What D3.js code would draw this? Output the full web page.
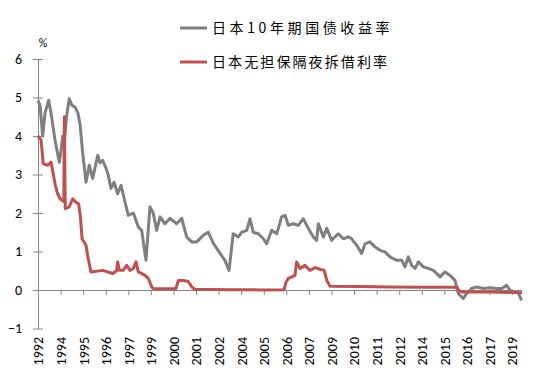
<!DOCTYPE html>
<html>
<head>
<meta charset="utf-8">
<script src="https://cdn.jsdelivr.net/npm/d3@7"></script>
<style>
  body { margin: 0; background: #fff; }
  .axis path, .axis line { stroke: #868686; }
  .axis text { font-family: Carlito, "Liberation Sans", sans-serif; font-size: 13px; fill: #000; }
</style>
</head>
<body>
<div id="chart"></div>
<script>
// JGB 10y yield, decimal year / percent
const jgbYears = [1992.80, 1992.91, 1993.06, 1993.19, 1993.39, 1993.52, 1993.74, 1993.98, 1994.07, 1994.17,
  1994.27, 1994.38, 1994.53, 1994.68, 1994.85, 1995.01, 1995.13, 1995.27, 1995.46, 1995.64,
  1995.83, 1996.11, 1996.23, 1996.38, 1996.57, 1996.68, 1996.84, 1997.01, 1997.21, 1997.40,
  1997.62, 1997.80, 1998.08, 1998.35, 1998.54, 1998.78, 1999.00, 1999.18, 1999.37, 1999.56,
  1999.83, 2000.11, 2000.48, 2000.76, 2001.03, 2001.31, 2001.59, 2001.95, 2002.23, 2002.51,
  2002.88, 2003.15, 2003.38, 2003.61, 2003.89, 2004.08, 2004.36, 2004.54, 2004.72, 2005.00,
  2005.28, 2005.46, 2005.74, 2006.02, 2006.29, 2006.48, 2006.66, 2006.94, 2007.21, 2007.49,
  2007.77, 2008.04, 2008.23, 2008.32, 2008.60, 2008.79, 2009.06, 2009.15, 2009.43, 2009.71,
  2009.98, 2010.17, 2010.45, 2010.72, 2010.91, 2011.18, 2011.46, 2011.74, 2012.01, 2012.29,
  2012.66, 2012.94, 2013.12, 2013.30, 2013.49, 2013.68, 2013.86, 2014.14, 2014.41, 2014.69,
  2014.78, 2015.06, 2015.34, 2015.61, 2015.89, 2016.07, 2016.35, 2016.54, 2016.81, 2017.09,
  2017.46, 2017.83, 2018.20, 2018.48, 2018.75, 2018.94, 2019.21, 2019.40, 2019.58];
const jgbValues = [4.93, 4.8, 4.0, 4.6, 4.93, 4.6, 3.9, 3.32, 3.6, 4.0,
  3.9, 4.5, 4.97, 4.8, 4.75, 4.6, 4.3, 3.58, 2.8, 3.24,
  2.9, 3.5, 3.3, 3.37, 3.16, 3.0, 2.64, 2.8, 2.5, 2.72,
  2.28, 1.94, 2.0, 1.64, 1.55, 0.77, 2.16, 2.0, 1.55, 1.9,
  1.72, 1.86, 1.72, 1.86, 1.38, 1.25, 1.25, 1.42, 1.5, 1.21,
  0.95, 0.77, 0.51, 1.46, 1.38, 1.5, 1.55, 1.85, 1.5, 1.46,
  1.33, 1.2, 1.55, 1.46, 1.9, 1.94, 1.68, 1.72, 1.68, 1.85,
  1.6, 1.38, 1.29, 1.72, 1.38, 1.6, 1.29, 1.34, 1.46, 1.33,
  1.38, 1.33, 1.16, 0.95, 1.2, 1.25, 1.12, 1.03, 0.99, 0.86,
  0.77, 0.77, 0.6, 0.86, 0.64, 0.56, 0.73, 0.6, 0.56, 0.51,
  0.47, 0.34, 0.47, 0.38, 0.25, -0.09, -0.22, -0.09, 0.04, 0.08,
  0.04, 0.06, 0.04, 0.04, 0.12, -0.01, -0.05, -0.09, -0.27];

// uncollateralized overnight call rate
const callYears = [1992.80, 1992.97, 1993.09, 1993.34, 1993.52, 1993.61, 1993.76, 1993.89, 1994.02, 1994.13,
  1994.23, 1994.26, 1994.31, 1994.53, 1994.72, 1994.90, 1995.05, 1995.15, 1995.24, 1995.46,
  1995.55, 1995.73, 1996.38, 1996.94, 1997.15, 1997.21, 1997.30, 1997.52, 1997.71, 1997.89,
  1998.08, 1998.23, 1998.35, 1998.54, 1998.72, 1998.91, 1999.10, 1999.18, 1999.74, 2000.29,
  2000.44, 2000.57, 2000.85, 2001.12, 2001.31, 2001.49, 2003.43, 2005.09, 2006.42, 2006.53,
  2006.66, 2006.85, 2007.03, 2007.12, 2007.31, 2007.58, 2007.86, 2008.14, 2008.41, 2008.65,
  2008.79, 2008.97, 2010.63, 2012.29, 2013.95, 2016.00, 2016.11, 2016.28, 2017.83, 2019.60];
const callValues = [4.0, 3.89, 3.28, 3.24, 3.32, 3.1, 2.72, 2.5, 2.37, 2.33,
  2.3, 4.5, 2.11, 2.16, 2.37, 2.28, 2.24, 1.9, 1.33, 1.16,
  0.9, 0.47, 0.51, 0.43, 0.5, 0.73, 0.51, 0.51, 0.64, 0.51,
  0.56, 0.73, 0.47, 0.43, 0.38, 0.3, 0.08, 0.04, 0.03, 0.03,
  0.04, 0.25, 0.25, 0.22, 0.08, 0.02, 0.005, 0.003, 0.005, 0.2,
  0.3, 0.34, 0.38, 0.73, 0.56, 0.64, 0.51, 0.58, 0.54, 0.51,
  0.25, 0.1, 0.09, 0.08, 0.07, 0.07, -0.02, -0.05, -0.05, -0.07];

// category-style axis: a label every 15 months
const tickYears = [1992.80, 1994.05, 1995.30, 1996.55, 1997.80, 1999.05, 2000.30, 2001.55, 2002.80, 2004.05, 2005.30,
  2006.55, 2007.80, 2009.05, 2010.30, 2011.55, 2012.80, 2014.05, 2015.30, 2016.55, 2017.80, 2019.05];
const tickLabels = ["1992", "1994", "1995", "1996", "1997", "1999", "2000", "2001", "2002", "2004", "2005",
  "2006", "2007", "2009", "2010", "2011", "2012", "2014", "2015", "2016", "2017", "2019"];
const yTicks = [-1, 0, 1, 2, 3, 4, 5, 6];

const seriesNames = ["日本10年期国债收益率", "日本无担保隔夜拆借利率"];
const seriesColors = ["#7f7f7f", "#c0504d"];
const legendSpacing = [3.6, 2.1];

function toDate(y) {
  const yr = Math.floor(y);
  const start = new Date(yr, 0, 1), end = new Date(yr + 1, 0, 1);
  return new Date(+start + (y - yr) * (end - start));
}

const width = 550, height = 376;
const svg = d3.select("#chart").append("svg")
  .attr("width", width)
  .attr("height", height);

const x = d3.scaleTime()
  .domain([toDate(1992.8), toDate(2019.6)])
  .range([38, 522]);
const y = d3.scaleLinear()
  .domain([-1, 6])
  .range([328.5, 59]);

// y axis, ticks cross the line
const yAxis = svg.append("g")
  .attr("class", "axis")
  .attr("transform", "translate(38,0)")
  .call(d3.axisLeft(y).tickValues(yTicks).tickSize(5).tickSizeOuter(0).tickPadding(11).tickFormat(d3.format("d")));
yAxis.selectAll(".tick line").attr("x1", 5);
yAxis.selectAll(".tick text").style("font-size", "14px");

// x axis sits on zero
const xAxis = svg.append("g")
  .attr("class", "axis")
  .attr("transform", `translate(0,${y(0)})`)
  .call(d3.axisBottom(x)
    .tickValues(tickYears.map(toDate))
    .tickSize(5).tickSizeOuter(0)
    .tickFormat((d, i) => tickLabels[i]));
xAxis.selectAll(".tick text")
  .attr("transform", "rotate(-90)")
  .attr("text-anchor", "end")
  .attr("x", -(337 - y(0)))
  .attr("y", 0)
  .attr("dy", "0.35em")
  .style("font-size", "14px");

svg.append("text")
  .attr("x", 43)
  .attr("y", 47)
  .attr("text-anchor", "middle")
  .style("font-family", "Carlito, 'Liberation Sans', sans-serif")
  .style("font-size", "12px")
  .text("%");

const line = d3.line()
  .x(d => x(toDate(d[0])))
  .y(d => y(d[1]));

const series = [
  d3.zip(jgbYears, jgbValues),
  d3.zip(callYears, callValues)
];

series.forEach((s, i) => {
  svg.append("path")
    .datum(s)
    .attr("fill", "none")
    .attr("stroke", seriesColors[i])
    .attr("stroke-width", 3)
    .attr("stroke-linejoin", "round")
    .attr("d", line);
});

// legend
const legend = svg.append("g").attr("class", "legend");
seriesNames.forEach((name, i) => {
  const ly = 28 + i * 34;
  legend.append("line")
    .attr("x1", 180).attr("x2", 207)
    .attr("y1", ly).attr("y2", ly)
    .attr("stroke", seriesColors[i])
    .attr("stroke-width", 3);
  legend.append("text")
    .attr("x", 212)
    .attr("y", ly + 5)
    .style("font-family", "'Noto Sans CJK SC', sans-serif")
    .style("font-size", "14px")
    .style("letter-spacing", legendSpacing[i] + "px")
    .text(name);
});
</script>
</body>
</html>
